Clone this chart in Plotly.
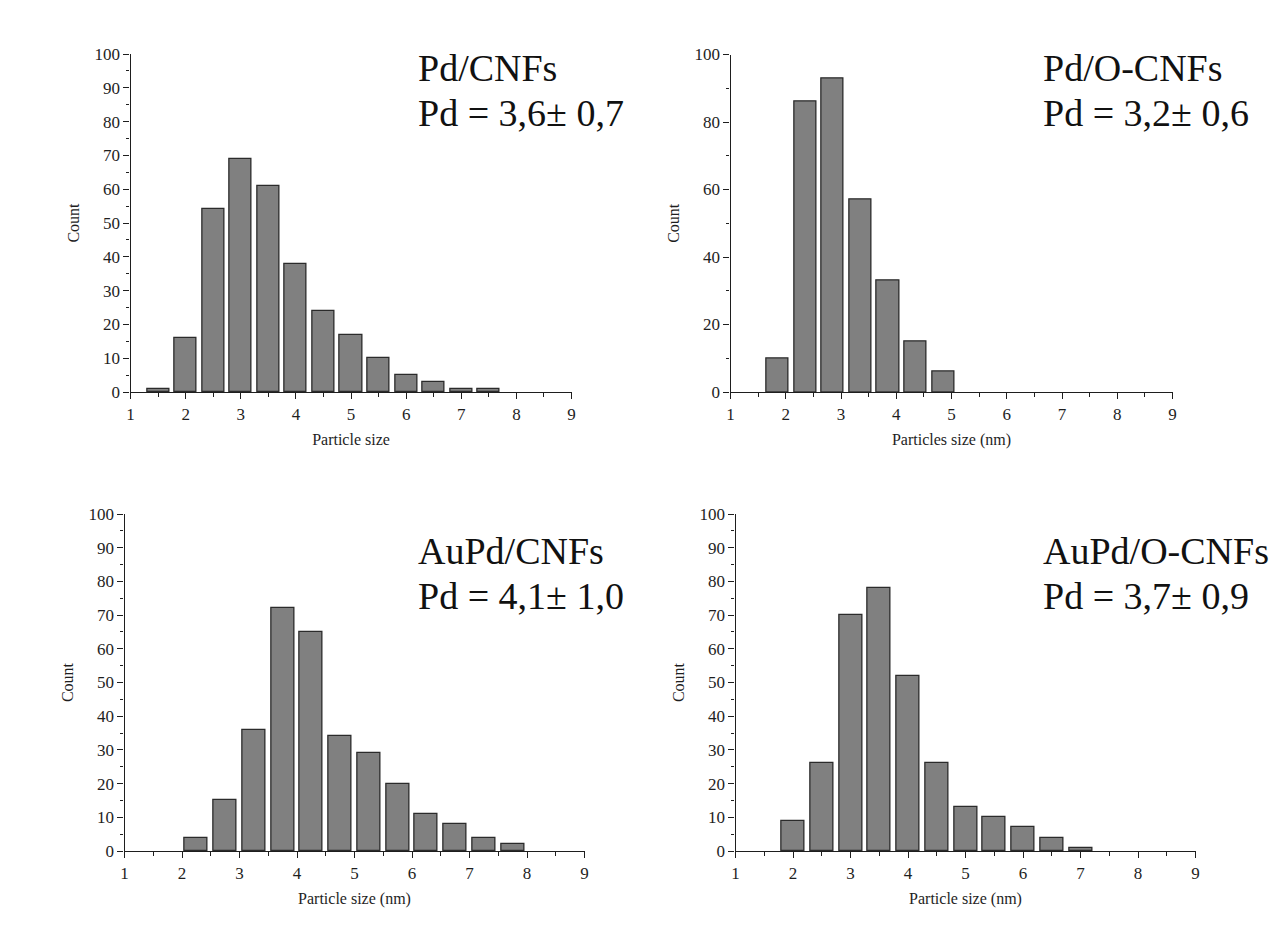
import plotly.graph_objects as go

# ---------------- data ----------------
tl_bins = [1.5, 2.0, 2.5, 3.0, 3.5, 4.0, 4.5, 5.0, 5.5, 6.0, 6.5, 7.0, 7.5]
tl_counts = [1, 16, 54, 69, 61, 38, 24, 17, 10, 5, 3, 1, 1]

tr_bins = [1.85, 2.35, 2.85, 3.35, 3.85, 4.35, 4.85]
tr_counts = [10, 86, 93, 57, 33, 15, 6]

bl_bins = [2.25, 2.75, 3.25, 3.75, 4.25, 4.75, 5.25, 5.75, 6.25, 6.75, 7.25, 7.75]
bl_counts = [4, 15, 36, 72, 65, 34, 29, 20, 11, 8, 4, 2]

br_bins = [2.0, 2.5, 3.0, 3.5, 4.0, 4.5, 5.0, 5.5, 6.0, 6.5, 7.0]
br_counts = [9, 26, 70, 78, 52, 26, 13, 10, 7, 4, 1]

panel_names = ["Pd/CNFs", "Pd/O-CNFs", "AuPd/CNFs", "AuPd/O-CNFs"]
panel_stats = ["Pd = 3,6\u00b1 0,7", "Pd = 3,2\u00b1 0,6", "Pd = 4,1\u00b1 1,0", "Pd = 3,7\u00b1 0,9"]
x_titles = ["Particle size", "Particles size (nm)", "Particle size (nm)", "Particle size (nm)"]
y_title = "Count"
x_tickvals = [1, 2, 3, 4, 5, 6, 7, 8, 9]

# ---------------- layout geometry ----------------
W, H = 1285, 925
OFF = 8  # page body margin of the html page
FONT = "Liberation Serif, Times New Roman, serif"
INK = "#1e1e1e"

def px_x(p):
    return (p - OFF) / W

def px_y(p):
    return 1 - (p - OFF) / H

panels = [
    dict(bins=tl_bins, counts=tl_counts, xd=(130.5, 571.5), yd=(392, 54), ydt=10, ymin=5, tx=416, ty=(68, 113)),
    dict(bins=tr_bins, counts=tr_counts, xd=(730.5, 1172.5), yd=(392, 54.5), ydt=20, ymin=10, tx=1041, ty=(68, 113)),
    dict(bins=bl_bins, counts=bl_counts, xd=(124.5, 584.5), yd=(851, 514), ydt=10, ymin=5, tx=416, ty=(551, 596)),
    dict(bins=br_bins, counts=br_counts, xd=(735.5, 1195.5), yd=(851, 514), ydt=10, ymin=5, tx=1041, ty=(551, 596)),
]

fig = go.Figure()
annotations = []
layout_axes = {}

for i, p in enumerate(panels):
    n = "" if i == 0 else str(i + 1)
    fig.add_trace(go.Bar(
        x=p["bins"], y=p["counts"], width=0.4,
        marker=dict(color="#808080", line=dict(color="#2b2b2b", width=1.3)),
        xaxis="x" + n, yaxis="y" + n, showlegend=False,
    ))
    layout_axes["xaxis" + n] = dict(
        domain=[px_x(p["xd"][0]), px_x(p["xd"][1])],
        anchor="y" + n, range=[1, 9], tickvals=x_tickvals,
        ticks="outside", ticklen=6, tickwidth=1.2, tickcolor=INK,
        minor=dict(ticks="outside", ticklen=3.5, tickwidth=1.1, tickcolor=INK, dtick=0.5, tick0=1, showgrid=False),
        showline=True, linecolor=INK, linewidth=1.4, showgrid=False, zeroline=False,
        tickfont=dict(family=FONT, size=17, color=INK),
        title=dict(text=x_titles[i], font=dict(family=FONT, size=16, color=INK), standoff=11),
        fixedrange=True,
    )
    layout_axes["yaxis" + n] = dict(
        domain=[px_y(p["yd"][0]), px_y(p["yd"][1])],
        anchor="x" + n, range=[0, 100], dtick=p["ydt"], tick0=0,
        ticks="outside", ticklen=6, tickwidth=1.2, tickcolor=INK,
        minor=dict(ticks="outside", ticklen=3.5, tickwidth=1.1, tickcolor=INK, dtick=p["ymin"], tick0=0, showgrid=False),
        showline=True, linecolor=INK, linewidth=1.4, showgrid=False, zeroline=False,
        tickfont=dict(family=FONT, size=17, color=INK),
        title=dict(text=y_title, font=dict(family=FONT, size=16, color=INK), standoff=10),
        fixedrange=True,
    )
    annotations.append(dict(
        text=panel_names[i], xref="paper", yref="paper",
        x=px_x(p["tx"]), y=px_y(p["ty"][0]), xanchor="left", yanchor="middle",
        showarrow=False, font=dict(family=FONT, size=38, color="#111111"),
    ))
    annotations.append(dict(
        text=panel_stats[i], xref="paper", yref="paper",
        x=px_x(p["tx"]), y=px_y(p["ty"][1]), xanchor="left", yanchor="middle",
        showarrow=False, font=dict(family=FONT, size=38, color="#111111"),
    ))

fig.update_layout(
    width=W, height=H,
    margin=dict(l=0, r=0, t=0, b=0, autoexpand=False),
    paper_bgcolor="white", plot_bgcolor="white",
    annotations=annotations,
    bargap=0,
    **layout_axes,
)

fig.write_html("out.html")
